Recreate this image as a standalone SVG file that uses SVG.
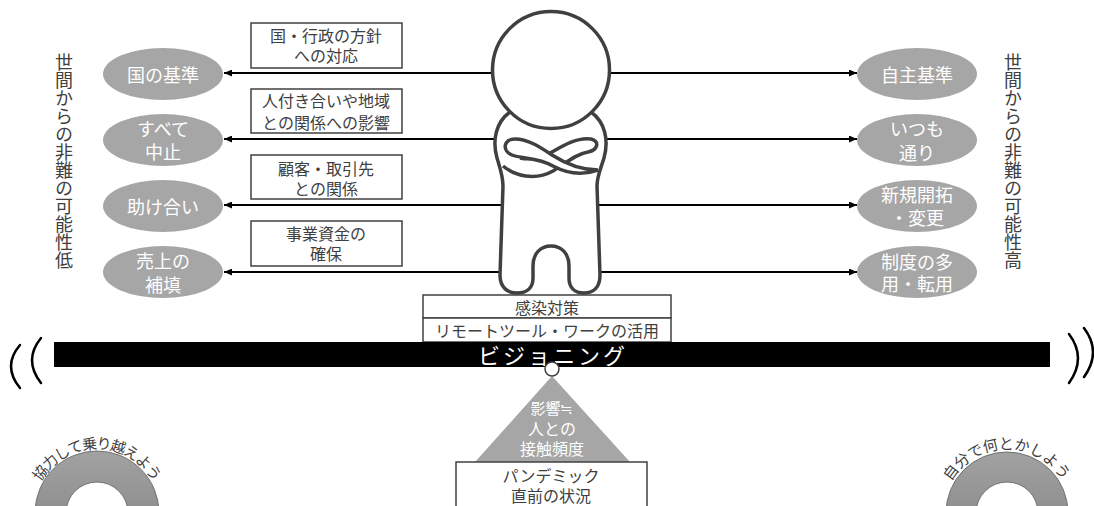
<svg xmlns="http://www.w3.org/2000/svg" width="1094" height="506" viewBox="0 0 1094 506">
  <style>
    text { font-family: "Noto Sans CJK JP", "Noto Sans", sans-serif; dominant-baseline: central; text-anchor: middle; }
    .lbl { font-size: 16px; fill: #404040; }
    .opt { font-size: 18px; fill: #ffffff; }
    .side { font-size: 18px; fill: #404040; writing-mode: vertical-rl; text-anchor: start; }
    .box { fill: #ffffff; stroke: #404040; stroke-width: 1.5; }
    .oval { fill: #a6a6a6; }
    .conn { stroke: #000000; stroke-width: 2; fill: none; }
    .fig { fill: #ffffff; stroke: #404040; stroke-width: 3.5; stroke-linejoin: round; }
    .paren { fill: none; stroke: #000000; stroke-width: 2.5; stroke-linecap: round; }
    .ring { fill: url(#ringFill); stroke: #707070; stroke-width: 1; fill-rule: evenodd; }
    .arc { font-size: 15px; fill: #404040; }
  </style>
  <defs>
    <marker id="head" markerWidth="8" markerHeight="7" refX="8" refY="3.5" orient="auto" markerUnits="userSpaceOnUse">
      <path d="M0,0 L8,3.5 L0,7 z" fill="#000000"/>
    </marker>
    <linearGradient id="ringFill" x1="0" y1="0" x2="0" y2="1">
      <stop offset="0" stop-color="#a2a2a2"/>
      <stop offset="1" stop-color="#7c7c7c"/>
    </linearGradient>
    <path id="arcL" d="M 26 513 A 71 71 0 0 1 168 513"/>
    <path id="arcR" d="M 936 513 A 71 71 0 0 1 1078 513"/>
  </defs>

  <!-- side captions -->
  <text class="side" x="64" y="53">世間からの非難の可能性低</text>
  <text class="side" x="1013" y="53">世間からの非難の可能性高</text>

  <!-- connectors -->
  <g id="connectors">
    <line class="conn" x1="515" y1="73" x2="224" y2="73" marker-end="url(#head)"/>
    <line class="conn" x1="515" y1="139" x2="224" y2="139" marker-end="url(#head)"/>
    <line class="conn" x1="515" y1="205" x2="224" y2="205" marker-end="url(#head)"/>
    <line class="conn" x1="515" y1="272" x2="224" y2="272" marker-end="url(#head)"/>
    <line class="conn" x1="585" y1="73" x2="857" y2="73" marker-end="url(#head)"/>
    <line class="conn" x1="585" y1="139" x2="857" y2="139" marker-end="url(#head)"/>
    <line class="conn" x1="585" y1="205" x2="857" y2="205" marker-end="url(#head)"/>
    <line class="conn" x1="585" y1="272" x2="857" y2="272" marker-end="url(#head)"/>
  </g>

  <!-- factor labels -->
  <g id="factor-policy">
    <rect class="box" x="251" y="23" width="151" height="45"/>
    <text class="lbl" x="326" y="35">国・行政の方針</text>
    <text class="lbl" x="326" y="55">への対応</text>
  </g>
  <g id="factor-community">
    <rect class="box" x="251" y="89" width="151" height="44"/>
    <text class="lbl" x="326" y="100">人付き合いや地域</text>
    <text class="lbl" x="326" y="122">との関係への影響</text>
  </g>
  <g id="factor-clients">
    <rect class="box" x="251" y="155" width="151" height="44"/>
    <text class="lbl" x="326" y="168">顧客・取引先</text>
    <text class="lbl" x="326" y="188">との関係</text>
  </g>
  <g id="factor-funds">
    <rect class="box" x="251" y="221" width="151" height="45"/>
    <text class="lbl" x="326" y="233">事業資金の</text>
    <text class="lbl" x="326" y="253">確保</text>
  </g>

  <!-- left options -->
  <g id="opt-national">
    <ellipse class="oval" cx="163" cy="74" rx="60" ry="26"/>
    <text class="opt" x="163" y="74">国の基準</text>
  </g>
  <g id="opt-stop">
    <ellipse class="oval" cx="163" cy="140" rx="60" ry="26"/>
    <text class="opt" x="163" y="128">すべて</text>
    <text class="opt" x="163" y="151">中止</text>
  </g>
  <g id="opt-help">
    <ellipse class="oval" cx="163" cy="206" rx="60" ry="26"/>
    <text class="opt" x="163" y="206">助け合い</text>
  </g>
  <g id="opt-sales">
    <ellipse class="oval" cx="163" cy="272" rx="60" ry="26"/>
    <text class="opt" x="163" y="260">売上の</text>
    <text class="opt" x="163" y="284">補填</text>
  </g>

  <!-- right options -->
  <g id="opt-own">
    <ellipse class="oval" cx="917" cy="74" rx="60" ry="26"/>
    <text class="opt" x="917" y="74">自主基準</text>
  </g>
  <g id="opt-usual">
    <ellipse class="oval" cx="917" cy="140" rx="60" ry="26"/>
    <text class="opt" x="917" y="128">いつも</text>
    <text class="opt" x="917" y="152">通り</text>
  </g>
  <g id="opt-new">
    <ellipse class="oval" cx="917" cy="206" rx="60" ry="26"/>
    <text class="opt" x="917" y="194">新規開拓</text>
    <text class="opt" x="917" y="217">・変更</text>
  </g>
  <g id="opt-scheme">
    <ellipse class="oval" cx="917" cy="272" rx="60" ry="26"/>
    <text class="opt" x="917" y="261">制度の多</text>
    <text class="opt" x="917" y="283">用・転用</text>
  </g>

  <!-- person with crossed arms -->
  <g id="person">
    <path class="fig" d="M 510 112 C 496 122 492 140 497 158 C 500 168 503 176 503 186 L 500 275 C 500 288 508 293 517 293 C 527 293 533 288 533 278 L 533 266 C 533 253 541 246 551 246 C 561 246 569 253 569 266 L 569 278 C 569 288 575 293 584 293 C 593 293 600 288 600 275 L 597 186 C 597 176 601 168 604 158 C 609 140 605 122 591 112 Z"/>
    <path class="fig" d="M 503 166 C 515 176 535 181 553 171 C 566 163 576 154 588 152 C 598 150 600 141 591 139 C 578 137 564 145 552 152 C 540 159 530 160 520 158"/>
    <path class="fig" d="M 598 170 C 584 175 568 174 553 166 C 538 157 522 159 512 155 C 502 151 503 139 515 139 C 528 139 540 147 552 155 C 566 164 582 170 598 170"/>
    <circle class="fig" cx="551" cy="70" r="58.5"/>
  </g>

  <!-- measures on the beam -->
  <g id="measures">
    <rect class="box" x="423" y="295" width="248" height="23"/>
    <text class="lbl" x="547" y="307">感染対策</text>
    <rect class="box" x="423" y="318" width="248" height="24"/>
    <text class="lbl" x="547" y="330">リモートツール・ワークの活用</text>
  </g>

  <!-- beam -->
  <g id="beam">
    <rect x="54" y="342" width="996" height="25" fill="#000000"/>
    <text x="553" y="354" font-size="22" fill="#ffffff" letter-spacing="3">ビジョニング</text>
  </g>

  <!-- swinging marks -->
  <g id="swing">
    <path class="paren" d="M 20 345 Q 2 366 20 388"/>
    <path class="paren" d="M 41 338 Q 23 360 41 383"/>
    <path class="paren" d="M 1069 334 Q 1087 358 1069 383"/>
    <path class="paren" d="M 1084 328 Q 1102 352 1084 377"/>
  </g>

  <!-- fulcrum -->
  <g id="fulcrum">
    <polygon points="552,376 475,462 630,462" fill="#a6a6a6"/>
    <text x="552" y="407" font-size="15" fill="#ffffff">影響≒</text>
    <text x="552" y="428" font-size="16" fill="#ffffff">人との</text>
    <text x="552" y="448" font-size="16" fill="#ffffff">接触頻度</text>
    <circle cx="552" cy="369" r="7" fill="#ffffff" stroke="#404040" stroke-width="1.5"/>
  </g>

  <!-- base situation -->
  <g id="base">
    <rect class="box" x="456" y="462" width="191" height="60"/>
    <text class="lbl" x="551" y="475">パンデミック</text>
    <text class="lbl" x="551" y="495">直前の状況</text>
  </g>

  <!-- left attitude -->
  <g id="attitude-left">
    <path class="ring" d="M 35 513 A 62 62 0 1 1 159 513 A 62 62 0 1 1 35 513 Z M 66 513 A 31 31 0 1 0 128 513 A 31 31 0 1 0 66 513 Z"/>
    <text class="arc"><textPath href="#arcL" startOffset="50%">協力して乗り越えよう</textPath></text>
  </g>

  <!-- right attitude -->
  <g id="attitude-right">
    <path class="ring" d="M 946 513 A 61 61 0 1 1 1068 513 A 61 61 0 1 1 946 513 Z M 976 513 A 31 31 0 1 0 1038 513 A 31 31 0 1 0 976 513 Z"/>
    <text class="arc" letter-spacing="1.5"><textPath href="#arcR" startOffset="50%">自分で何とかしよう</textPath></text>
  </g>
</svg>
